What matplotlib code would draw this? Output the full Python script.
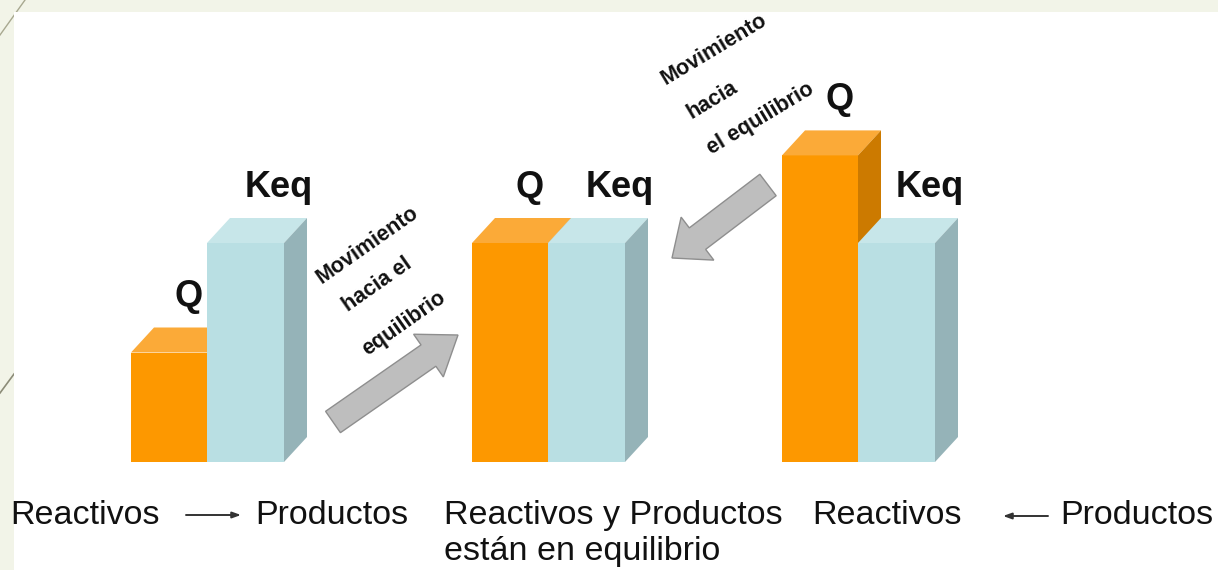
import matplotlib
matplotlib.use("Agg")
import matplotlib.pyplot as plt
from matplotlib.patches import Polygon, Rectangle, FancyArrow

plt.rcParams["font.family"] = ["Liberation Sans", "DejaVu Sans"]

# ---- data -------------------------------------------------------------
groups = ["Q < Keq", "Q = Keq", "Q > Keq"]
q_values = [0.50, 1.00, 1.40]
keq_values = [1.00, 1.00, 1.00]
series_labels = ["Q", "Keq"]

bottom_labels = [
    ("Reactivos", 10, 524), ("Productos", 255, 524),
    ("Reactivos y Productos", 444, 524), ("están en equilibrio", 444, 560),
    ("Reactivos", 812, 524), ("Productos", 1060, 524),
]
move_text_1 = ["Movimiento", "hacia el", "equilibrio"]
move_text_2 = ["Movimiento", "hacia", "el equilibrio"]

# ---- layout -----------------------------------------------------------
W, H = 1218, 570
BASE_PX = 462          # pixel row of the bar baseline
UNIT_PX = 219          # pixels per unit of value
group_left = [131, 472, 782]
q_width, keq_width = 76, 77
depth_x, depth_px = 23, 25

ORANGE = dict(front="#FD9800", top="#FBAA38", side="#CC7A00")
BLUE = dict(front="#B9DFE3", top="#C7E6E9", side="#95B3B8")

fig = plt.figure(figsize=(W / 100, H / 100), dpi=100, facecolor="#F2F4E8")

# white slide area and thin decorative strokes on the margin
deco = fig.add_axes([0, 0, 1, 1])
deco.set_xlim(0, W); deco.set_ylim(H, 0); deco.axis("off")
deco.patch.set_alpha(0)
deco.plot([0, 25], [35, 0], color="#A8A890", lw=1.0, zorder=1)
deco.plot([0, 14], [393, 374], color="#8C8C78", lw=1.2, zorder=1)
deco.add_patch(Rectangle((14, 12), W - 14, H - 12, facecolor="white",
                         edgecolor="none", zorder=2))

# ---- bars (value axes) -------------------------------------------------
ax = fig.add_axes([0, 0, 1, 1])
ax.patch.set_alpha(0)
ax.set_xlim(0, W)
ax.set_ylim(-(H - BASE_PX) / UNIT_PX, BASE_PX / UNIT_PX)
ax.axis("off")
depth_y = depth_px / UNIT_PX


def bar3d(x0, width, value, colors):
    x1 = x0 + width
    ax.bar(x0, value, width=width, align="edge", color=colors["front"],
           edgecolor="none", zorder=2)
    ax.add_patch(Polygon([(x0, value), (x0 + depth_x, value + depth_y),
                          (x1 + depth_x, value + depth_y), (x1, value)],
                         closed=True, facecolor=colors["top"],
                         edgecolor="none", zorder=2))
    ax.add_patch(Polygon([(x1, 0), (x1 + depth_x, depth_y),
                          (x1 + depth_x, value + depth_y), (x1, value)],
                         closed=True, facecolor=colors["side"],
                         edgecolor="none", zorder=2))


label_dx = {"Q": 8, "Keq": 22}
for x0, q, k in zip(group_left, q_values, keq_values):
    bar3d(x0, q_width, q, ORANGE)
    bar3d(x0 + q_width, keq_width, k, BLUE)
    for name, x_left, w, v in (("Q", x0, q_width, q),
                               ("Keq", x0 + q_width, keq_width, k)):
        ax.annotate(name, xy=(x_left + w / 2 + depth_x / 2, v + depth_y),
                    xytext=(label_dx[name], 21), textcoords="offset pixels",
                    ha="center", va="baseline", fontsize=26,
                    fontweight="bold", color="#111111", zorder=4)

# ---- arrows and captions (pixel overlay) -------------------------------
ov = fig.add_axes([0, 0, 1, 1])
ov.set_xlim(0, W); ov.set_ylim(H, 0); ov.axis("off")
ov.patch.set_alpha(0)

ov.add_patch(FancyArrow(333, 422, 125, -87, width=26, head_width=52,
                        head_length=36, length_includes_head=True,
                        facecolor="#BEBEBE", edgecolor="#8E8E8E", lw=1.0))
ov.add_patch(FancyArrow(768, 185, -96, 73, width=27, head_width=54,
                        head_length=32, length_includes_head=True,
                        facecolor="#BEBEBE", edgecolor="#8E8E8E", lw=1.0))

for txt, (cx, cy) in zip(move_text_1, [(367, 245), (377, 285), (404, 324)]):
    ov.text(cx, cy, txt, rotation=35, rotation_mode="anchor", ha="center",
            va="center", fontsize=15.5, fontweight="bold", color="#111111")
for txt, (cx, cy) in zip(move_text_2, [(714, 49), (712, 100), (760, 119)]):
    ov.text(cx, cy, txt, rotation=31, rotation_mode="anchor", ha="center",
            va="center", fontsize=15.5, fontweight="bold", color="#111111")

for txt, x, y in bottom_labels:
    ov.text(x, y, txt, ha="left", va="baseline", fontsize=24.5,
            color="#111111")

ov.annotate("", xy=(241, 515), xytext=(186, 515),
            arrowprops=dict(arrowstyle="-|>,head_length=0.5,head_width=0.18",
                            lw=1.4, color="#333333", shrinkA=0, shrinkB=0))
ov.annotate("", xy=(1003, 516), xytext=(1048, 516),
            arrowprops=dict(arrowstyle="-|>,head_length=0.5,head_width=0.18",
                            lw=1.4, color="#333333", shrinkA=0, shrinkB=0))

fig.savefig("out.png", dpi=100, facecolor=fig.get_facecolor())
